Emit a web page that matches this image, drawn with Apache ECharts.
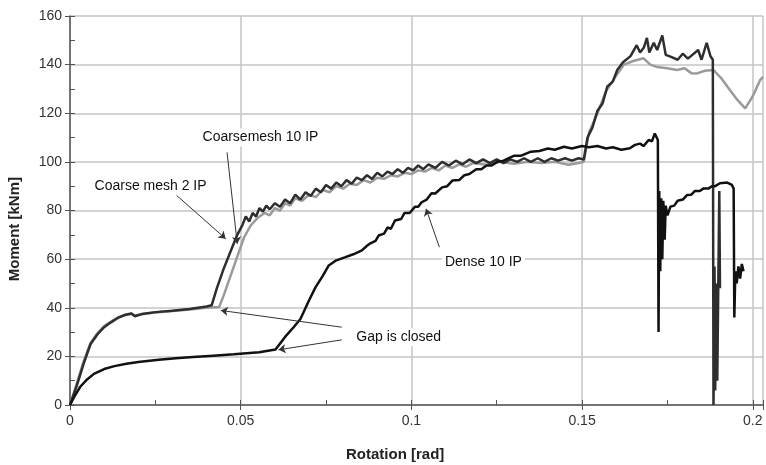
<!DOCTYPE html>
<html lang="en">
<head>
    <meta charset="UTF-8">
    <title>Moment - Rotation</title>
    <style>
        html, body { margin: 0; padding: 0; background: #fff; }
        #main { width: 766px; height: 465px; }
    </style>
    <script src="https://cdn.jsdelivr.net/npm/echarts@6/dist/echarts.min.js"></script>
</head>
<body>
<div id="main"></div>
<script type="text/javascript">

    // tick labels
    var xTickLabels = ['0', '0.05', '0.1', '0.15', '0.2'];
    var yTickLabels = ['0', '20', '40', '60', '80', '100', '120', '140', '160'];

    // Coarse mesh 2 IP  [rotation, moment]
    var coarse2 = [
        [0,0],[0.002,8],[0.004,17],[0.006,25],[0.008,29],[0.010,32],[0.012,34],[0.014,35.8],
        [0.016,37],[0.018,37.6],[0.019,36.5],[0.021,37.4],[0.025,38.2],[0.030,38.8],[0.035,39.5],
        [0.040,40.5],[0.0415,41],[0.043,48],[0.045,56],[0.047,63],[0.049,70],
        [0.0505,74],[0.0515,77.5],[0.0525,75.5],[0.0535,79],[0.0545,77.5],[0.0555,81],[0.0565,79.5],
        [0.0575,82],[0.0585,80.5],[0.060,83],[0.0615,81.5],[0.063,84.5],[0.0645,83],[0.066,86.5],
        [0.0675,84.5],[0.069,87.5],[0.0705,86],[0.072,89],[0.0735,87.5],[0.075,90.5],[0.0765,89],
        [0.078,91.5],[0.0795,90],[0.081,92.5],[0.0825,91],[0.084,93.5],[0.0855,92.5],[0.087,94.5],
        [0.0885,93],[0.090,95.5],[0.0915,94],[0.093,96],[0.0945,95],[0.096,97],[0.0975,95.5],
        [0.099,97.5],[0.1005,96.5],[0.102,98.5],[0.1035,97],[0.105,99],[0.107,97.5],[0.109,100],
        [0.111,98.5],[0.113,100.5],[0.115,99],[0.117,101],[0.119,99.5],[0.121,101],[0.123,99.5],
        [0.125,101],[0.127,99.5],[0.129,101],[0.131,100],[0.133,101.5],[0.135,100],[0.137,101.5],
        [0.139,100],[0.141,101.5],[0.143,100.5],[0.145,101.5],[0.147,100.5],[0.149,101.5],[0.1505,101],
        [0.1516,110],[0.153,114],[0.1545,121],[0.156,124],[0.1574,131],[0.159,133],[0.1603,137.8],
        [0.162,141],[0.1642,143.5],[0.166,148],[0.167,145],[0.1681,147],[0.169,151],[0.1697,145],
        [0.171,149],[0.172,146],[0.1735,152],[0.1745,144],[0.1759,143.3],[0.178,142],[0.1795,144.5],
        [0.181,142.5],[0.1817,143.3],[0.184,146],[0.185,142],[0.1865,149],[0.1876,143.5],[0.1883,142],
        [0.1885,0],[0.1888,57],[0.189,6],[0.1893,50],[0.1896,10],[0.1902,88],[0.1904,48]
    ];

    // Coarse mesh 10 IP
    var coarse10 = [
        [0,0],[0.002,9],[0.004,18],[0.006,25.5],[0.008,29.5],[0.010,32.5],[0.012,34.3],[0.014,36],
        [0.016,37],[0.018,37.5],[0.019,36.8],[0.021,37.3],[0.025,38],[0.030,38.7],[0.035,39.3],
        [0.040,40],[0.0437,40.3],[0.045,45],[0.047,53],[0.049,61],[0.051,69],[0.053,74],
        [0.055,77],[0.057,79],[0.0585,78],[0.060,81],[0.0615,80],[0.063,83],[0.0645,82],[0.066,85],
        [0.068,84],[0.070,86.5],[0.072,85.5],[0.074,88.5],[0.076,87.5],[0.078,90],[0.080,89],
        [0.082,91],[0.084,90.5],[0.086,92.5],[0.088,91.5],[0.090,93.5],[0.092,93],[0.094,94.5],
        [0.096,94],[0.098,95.5],[0.100,95],[0.102,96.5],[0.104,96],[0.106,97.5],[0.108,96.5],
        [0.110,98.5],[0.112,97.5],[0.114,99],[0.116,98],[0.118,99.5],[0.122,98.8],[0.126,100],
        [0.130,99.2],[0.134,100],[0.138,99.5],[0.142,100],[0.146,98.8],[0.149,99.5],[0.1505,100],
        [0.152,112],[0.1545,120],[0.157,129],[0.160,135.5],[0.1623,140],[0.165,141.5],[0.168,142.6],
        [0.170,140],[0.172,139],[0.175,138.5],[0.1778,137.8],[0.180,138.5],[0.182,136.5],
        [0.1837,136.4],[0.186,137.5],[0.1885,137.8],[0.191,134],[0.1933,129.6],[0.1955,125.5],
        [0.1978,122],[0.200,127],[0.2021,133.5],[0.203,135]
    ];

    // Dense 10 IP
    var dense10 = [
        [0,0],[0.0015,4],[0.003,7.5],[0.005,10.5],[0.007,12.8],[0.010,14.8],[0.013,16],[0.0165,17],
        [0.020,17.7],[0.026,18.6],[0.031,19.2],[0.036,19.7],[0.042,20.3],[0.048,20.9],[0.0554,21.7],
        [0.0602,22.8],[0.063,28],[0.0655,32],[0.0675,35.4],[0.070,43],[0.0719,48.4],[0.074,53],
        [0.0758,57.4],[0.078,59.5],[0.0807,60.8],[0.083,62],[0.0855,63.6],[0.087,65.5],[0.088,66.5],
        [0.0895,67.5],[0.0904,69.7],[0.092,70.5],[0.093,73],[0.094,72.5],[0.0952,75.9],[0.097,76.5],
        [0.098,79],[0.0995,79],[0.101,81.5],[0.102,81.5],[0.103,83.4],[0.1045,84.5],[0.1059,87.1],
        [0.107,87],[0.109,89.5],[0.1105,90],[0.112,92.3],[0.114,92.5],[0.1155,94.5],[0.117,95],
        [0.119,97],[0.1205,97],[0.122,98.5],[0.1235,98.5],[0.1252,100],[0.127,100.5],[0.130,102.5],
        [0.132,102.5],[0.135,104.2],[0.1375,104.5],[0.140,105.5],[0.142,105],[0.1447,106.2],
        [0.147,105.5],[0.150,106.5],[0.152,106],[0.1545,106.5],[0.157,105.5],[0.159,106],
        [0.1615,105],[0.164,105.6],[0.1655,107],[0.167,107.5],[0.168,106.5],[0.1695,109],
        [0.1705,108.5],[0.1713,111.7],[0.1718,112],[0.1722,109],[0.1724,30],[0.1726,88],
        [0.1729,55],[0.1732,85],[0.1735,60],[0.1738,84],[0.1742,68],[0.1745,82],[0.175,78],
        [0.1759,81.6],[0.177,82],[0.178,84],[0.1795,84.5],[0.1808,86.4],[0.182,86.5],[0.183,88],
        [0.1845,88],[0.1856,89.1],[0.187,89],[0.188,90],[0.189,90],[0.1904,91.2],[0.1925,91.5],
        [0.1939,90.5],[0.1944,89],[0.1946,36],[0.1949,55],[0.1953,50],[0.1958,57],
        [0.1963,52],[0.1968,58],[0.1973,55]
    ];

    // annotations: text centre, arrow start, arrow tip (data units)
    var notes = [
        { text: 'Coarse mesh 2 IP', at: [0.0236, 89.9], arrows: [[[0.0306, 87], [0.0456, 68.4]]] },
        { text: 'Coarsemesh 10 IP', at: [0.0558, 110.0], arrows: [[[0.046, 103.9], [0.049, 66.3]]] },
        { text: 'Dense 10 IP', at: [0.1211, 58.6], arrows: [[[0.1082, 64.9], [0.1043, 80.7]]] },
        { text: 'Gap is closed', at: [0.0963, 27.9], arrows: [[[0.0796, 32], [0.0442, 38.9]], [[0.0796, 26.8], [0.0611, 22.7]]] }
    ];

    var markLines = [];
    var markPoints = [];
    notes.forEach(function (n) {
        n.arrows.forEach(function (a) {
            markLines.push([{ coord: a[0] }, { coord: a[1] }]);
        });
        markPoints.push({ coord: n.at, value: n.text });
    });

    var myChart = echarts.init(document.getElementById('main'), null, { renderer: 'canvas' });

    var option = {
        animation: false,
        backgroundColor: '#fff',
        grid: { left: 70, right: 0, top: 16, bottom: 60 },
        xAxis: [{
            type: 'value', min: 0, max: 0.203, interval: 0.05, position: 'bottom',
            axisLine: { show: true, lineStyle: { color: '#555', width: 1.5 } },
            axisTick: { show: true, length: 5, lineStyle: { color: '#555' } },
            axisLabel: {
                fontSize: 14, color: '#333', margin: 9, fontFamily: 'Liberation Sans',
                formatter: function (v) {
                    var i = Math.round(v / 0.05);
                    return Math.abs(v - i * 0.05) < 1e-6 ? xTickLabels[i] : '';
                }
            },
            splitLine: { show: true, lineStyle: { color: '#c4c4c4', width: 1.5 } }
        }, {
            type: 'value', min: 0, max: 0.203, interval: 0.025, position: 'bottom',
            axisLine: { show: false },
            axisTick: { show: true, inside: true, length: 5, lineStyle: { color: '#555' } },
            axisLabel: { show: false },
            splitLine: { show: false }
        }],
        yAxis: [{
            type: 'value', min: 0, max: 160, interval: 20, position: 'left',
            axisLine: { show: true, lineStyle: { color: '#555', width: 1.5 } },
            axisTick: { show: true, length: 5, lineStyle: { color: '#555' } },
            axisLabel: {
                fontSize: 14, color: '#333', margin: 8, fontFamily: 'Liberation Sans',
                formatter: function (v) { return yTickLabels[Math.round(v / 20)]; }
            },
            splitLine: { show: true, lineStyle: { color: '#c4c4c4', width: 1.5 } }
        }, {
            type: 'value', min: 0, max: 160, interval: 10, position: 'left',
            axisLine: { show: false },
            axisTick: { show: true, inside: true, length: 5, lineStyle: { color: '#555' } },
            axisLabel: { show: false },
            splitLine: { show: false }
        }],
        graphic: [{
            type: 'text', left: 7, top: 177, rotation: Math.PI / 2,
            style: { text: 'Moment [kNm]', font: 'bold 15px "Liberation Sans"', fill: '#222' }
        }, {
            type: 'text', left: 346, top: 447,
            style: { text: 'Rotation [rad]', font: 'bold 15px "Liberation Sans"', fill: '#222' }
        }],
        series: [{
            name: 'Coarse mesh 10 IP', type: 'line', xAxisIndex: 0, yAxisIndex: 0,
            data: coarse10, showSymbol: false,
            lineStyle: { color: '#9a9a9a', width: 2.5 }
        }, {
            name: 'Coarse mesh 2 IP', type: 'line', xAxisIndex: 0, yAxisIndex: 0,
            data: coarse2, showSymbol: false,
            lineStyle: { color: '#2e2e2e', width: 2.5 }
        }, {
            name: 'Dense 10 IP', type: 'line', xAxisIndex: 0, yAxisIndex: 0,
            data: dense10, showSymbol: false,
            lineStyle: { color: '#111', width: 2.5 },
            markLine: {
                silent: true, symbol: ['none', 'arrow'], symbolSize: 7,
                lineStyle: { color: '#333', width: 1, type: 'solid' },
                label: { show: false },
                data: markLines
            },
            markPoint: {
                silent: true, symbol: 'circle', symbolSize: 0,
                label: {
                    show: true, position: 'inside', formatter: '{c}',
                    fontSize: 14, color: '#111', fontFamily: 'Liberation Sans',
                    backgroundColor: '#fff', padding: [2, 3]
                },
                data: markPoints
            }
        }]
    };

    myChart.setOption(option);

</script>
</body>
</html>
